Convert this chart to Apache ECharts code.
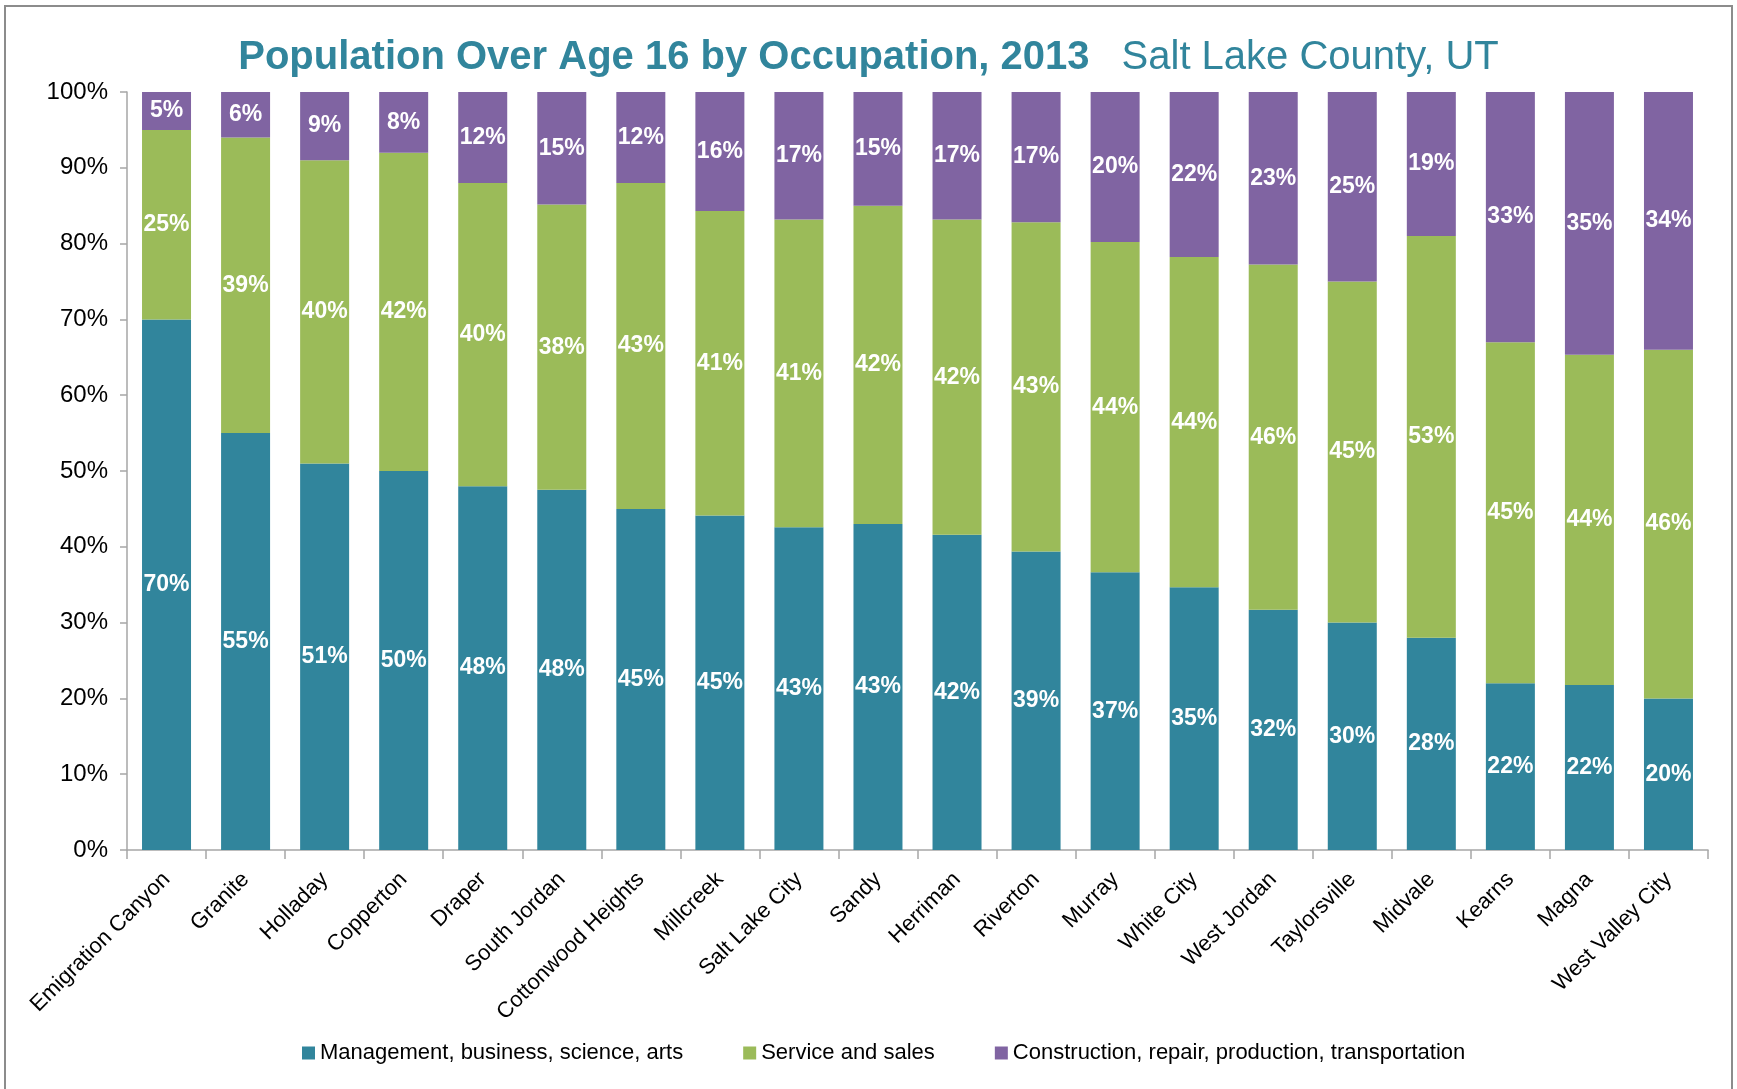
<!DOCTYPE html>
<html>
<head>
<meta charset="utf-8">
<script src="https://cdn.jsdelivr.net/npm/echarts@6/dist/echarts.min.js"></script>
<style>
  html, body { margin: 0; padding: 0; background: #fff; }
  #main { width: 1737px; height: 1089px; }
</style>
</head>
<body>
<div id="main"></div>
<script>
var categories = ['Emigration Canyon', 'Granite', 'Holladay', 'Copperton', 'Draper', 'South Jordan',
  'Cottonwood Heights', 'Millcreek', 'Salt Lake City', 'Sandy', 'Herriman', 'Riverton', 'Murray',
  'White City', 'West Jordan', 'Taylorsville', 'Midvale', 'Kearns', 'Magna', 'West Valley City'];
var management = [70, 55, 51, 50, 48, 48, 45, 45, 43, 43, 42, 39, 37, 35, 32, 30, 28, 22, 22, 20];
var service = [25, 39, 40, 42, 40, 38, 43, 41, 41, 42, 42, 43, 44, 44, 46, 45, 53, 45, 44, 46];
var construction = [5, 6, 9, 8, 12, 15, 12, 16, 17, 15, 17, 17, 20, 22, 23, 25, 19, 33, 35, 34];
var seriesNames = ['Management, business, science, arts', 'Service and sales', 'Construction, repair, production, transportation'];

var colorList = ['#31859C', '#9BBB59', '#8064A2'];
var narrow = "'Liberation Sans Narrow', 'Arial Narrow', 'Liberation Sans', sans-serif";

// 100% stacked: each column is scaled so the three parts fill the axis
var totals = categories.map(function (c, i) {
  return management[i] + service[i] + construction[i];
});
function share(arr) {
  return arr.map(function (v, i) { return v / totals[i] * 100; });
}

function makeSeries(name, raw) {
  return {
    name: name,
    type: 'bar',
    stack: 'total',
    barWidth: 49,
    data: share(raw),
    label: {
      show: true,
      position: 'inside',
      color: '#fff',
      fontWeight: 'bold',
      fontSize: 23,
      fontFamily: narrow,
      formatter: function (p) { return raw[p.dataIndex] + '%'; }
    }
  };
}

var option = {
  backgroundColor: '#fff',
  color: colorList,
  title: {
    left: 'center',
    top: 33,
    text: '{a|Population Over Age 16 by Occupation, 2013}{b|Salt Lake County, UT}',
    textStyle: {
      rich: {
        a: { fontSize: 40, fontWeight: 'bold', color: '#31859C', fontFamily: narrow },
        b: { fontSize: 40, fontWeight: 'normal', color: '#31859C', fontFamily: narrow, padding: [0, 0, 0, 32] }
      }
    }
  },
  legend: {
    data: seriesNames,
    left: 297,
    top: 1037,
    icon: 'rect',
    itemWidth: 13,
    itemHeight: 13,
    itemGap: 60,
    textStyle: { fontSize: 22, color: '#000', fontFamily: narrow }
  },
  grid: {
    left: 127,
    right: 29,
    top: 92,
    bottom: 239
  },
  xAxis: {
    type: 'category',
    data: categories,
    axisLine: { lineStyle: { color: '#A6A6A6', width: 1.5 } },
    axisTick: { show: true, length: 9, lineStyle: { color: '#A6A6A6', width: 1.5 } },
    axisLabel: {
      interval: 0,
      rotate: 45,
      margin: 26,
      fontSize: 22,
      color: '#000',
      fontFamily: narrow
    }
  },
  yAxis: {
    type: 'value',
    min: 0,
    max: 100,
    interval: 10,
    splitLine: { show: false },
    axisLine: { show: true, lineStyle: { color: '#A6A6A6', width: 1.5 } },
    axisTick: { show: true, length: 7, lineStyle: { color: '#A6A6A6', width: 1.5 } },
    axisLabel: {
      formatter: '{value}%',
      margin: 19,
      fontSize: 24,
      color: '#000',
      fontFamily: narrow
    }
  },
  graphic: [{
    type: 'rect',
    shape: { x: 5, y: 6, width: 1727, height: 1095 },
    style: { fill: 'none', stroke: '#8C8C8C', lineWidth: 2 },
    silent: true
  }],
  series: [
    makeSeries(seriesNames[0], management),
    makeSeries(seriesNames[1], service),
    makeSeries(seriesNames[2], construction)
  ]
};

var myCharts = echarts.init(document.getElementById('main'));
myCharts.setOption(option);
</script>
</body>
</html>
